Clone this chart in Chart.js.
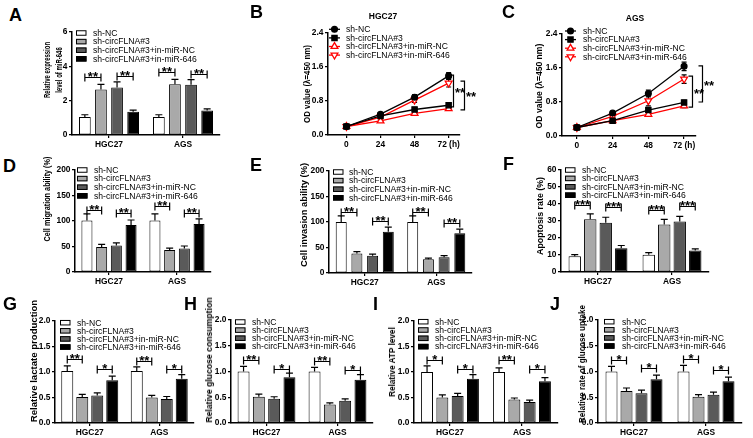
<!DOCTYPE html>
<html><head><meta charset="utf-8">
<script src="https://cdn.jsdelivr.net/npm/chart.js@4.4.0/dist/chart.umd.min.js"></script>
<style>
body{margin:0;background:#fff;}
#fig{position:relative;width:753px;height:438px;overflow:hidden;background:#fff;font-family:'Liberation Sans',Arial,sans-serif;}
canvas{position:absolute;}
.lbl{position:absolute;font-weight:bold;font-size:18px;line-height:1;color:#000;z-index:5;}
.yt{position:absolute;white-space:nowrap;font-weight:bold;font-size:9.5px;line-height:1.05;text-align:center;color:#000;z-index:5;}
.ct{position:absolute;font-weight:bold;font-size:8.5px;white-space:nowrap;transform:translate(-50%,-50%);z-index:5;}
</style></head>
<body><div id="fig"></div>
<script>
// ---------------- DATA ----------------
const categories = ['HGC27', 'AGS'];
const groups = ['sh-NC', 'sh-circFLNA#3', 'sh-circFLNA#3+in-miR-NC', 'sh-circFLNA#3+in-miR-646'];
const hours = [0, 24, 48, 72];

// rows = groups, columns = categories [HGC27, AGS]
const miR646 = [[1.05, 1.05], [2.65, 2.96], [2.77, 2.92], [1.35, 1.42]];
const miR646Err = [[0.13, 0.13], [0.30, 0.28], [0.33, 0.30], [0.10, 0.10]];
const miR646Sig = [[0, 0, 1, 3.35, '**'], [0, 2, 3, 3.43, '**'], [1, 0, 1, 3.68, '**'], [1, 2, 3, 3.58, '**']];
const miR646Ticks = [0, 2, 4, 6];

// OD (CCK-8) curves, rows = groups, columns = hours
const odHGC27 = [[0.20, 0.49, 0.89, 1.39], [0.20, 0.45, 0.60, 0.70], [0.20, 0.33, 0.51, 0.62], [0.20, 0.42, 0.82, 1.22]];
const odHGC27Err = [[0.02, 0.03, 0.06, 0.08], [0.02, 0.03, 0.05, 0.05], [0.02, 0.02, 0.03, 0.03], [0.02, 0.03, 0.05, 0.09]];
const odHGC27Sig = [[1.41, 0.66, '**'], [1.27, 0.59, '**']];
const odAGS = [[0.20, 0.54, 1.00, 1.64], [0.20, 0.36, 0.61, 0.79], [0.20, 0.36, 0.51, 0.71], [0.20, 0.46, 0.83, 1.34]];
const odAGSErr = [[0.02, 0.04, 0.08, 0.10], [0.02, 0.02, 0.05, 0.05], [0.02, 0.02, 0.03, 0.04], [0.02, 0.03, 0.12, 0.10]];
const odAGSSig = [[1.41, 0.68, '**'], [1.65, 0.80, '**']];
const odTicks = [0, 0.8, 1.6, 2.4];

const migration = [[101, 101], [49, 43], [52, 46], [92, 94]];
const migrationErr = [[13, 13], [5, 4], [5, 5], [10, 10]];
const migrationSig = [[0, 0, 1, 122, '**'], [0, 2, 3, 115, '**'], [1, 0, 1, 129, '**'], [1, 2, 3, 115, '**']];
const pctTicks = [0, 50, 100, 150, 200];

const invasion = [[100, 100], [38, 27], [34, 31], [81, 78]];
const invasionErr = [[12, 12], [4, 2], [3, 3], [9, 8]];
const invasionSig = [[0, 0, 1, 120, '**'], [0, 2, 3, 102, '**'], [1, 0, 1, 120, '**'], [1, 2, 3, 99, '**']];

const apoptosis = [[9.2, 10.2], [31, 28], [29, 29.7], [14, 12.6]];
const apoptosisErr = [[1, 1.2], [3.2, 3], [3.2, 3], [1.6, 1]];
const apoptosisSig = [[0, 0, 1, 39.3, '***'], [0, 2, 3, 38, '***'], [1, 0, 1, 36.4, '***'], [1, 2, 3, 38.8, '***']];
const apoTicks = [0, 10, 20, 30, 40, 50, 60];

const lactate = [[1.02, 1.02], [0.51, 0.50], [0.54, 0.47], [0.84, 0.87]];
const lactateErr = [[0.10, 0.08], [0.05, 0.04], [0.05, 0.05], [0.08, 0.08]];
const lactateSig = [[0, 0, 1, 1.25, '**'], [0, 2, 3, 1.05, '*'], [1, 0, 1, 1.22, '**'], [1, 2, 3, 1.05, '*']];

const glucoseCons = [[1.0, 1.0], [0.51, 0.36], [0.47, 0.43], [0.89, 0.84]];
const glucoseConsErr = [[0.10, 0.08], [0.05, 0.03], [0.04, 0.04], [0.08, 0.10]];
const glucoseConsSig = [[0, 0, 1, 1.22, '**'], [0, 2, 3, 1.05, '*'], [1, 0, 1, 1.21, '**'], [1, 2, 3, 1.03, '*']];

const atp = [[1.0, 1.0], [0.50, 0.46], [0.53, 0.41], [0.87, 0.82]];
const atpErr = [[0.12, 0.08], [0.05, 0.03], [0.05, 0.04], [0.08, 0.07]];
const atpSig = [[0, 0, 1, 1.23, '*'], [0, 2, 3, 1.05, '*'], [1, 0, 1, 1.23, '**'], [1, 2, 3, 1.05, '*']];

const uptake = [[1.0, 1.0], [0.62, 0.51], [0.58, 0.55], [0.85, 0.81]];
const uptakeErr = [[0.10, 0.12], [0.06, 0.04], [0.06, 0.05], [0.08, 0.08]];
const uptakeSig = [[0, 0, 1, 1.23, '*'], [0, 2, 3, 1.06, '*'], [1, 0, 1, 1.24, '*'], [1, 2, 3, 1.03, '*']];
const relTicks = [0, 0.5, 1.0, 1.5, 2.0];

// ---------------- STYLE / HELPERS ----------------
const FONT = "'Liberation Sans', Arial, Helvetica, sans-serif";
Chart.defaults.font.family = FONT;
Chart.defaults.color = '#000';
const BAR_COLORS = ['#ffffff', '#a9a9a9', '#5a5a5a', '#000000'];
const LINE_STYLES = [
  {color: '#000000', style: 'circle', r: 2.9, rot: 0, fill: '#000000'},
  {color: '#000000', style: 'rect', r: 3.7, rot: 0, fill: '#000000'},
  {color: '#ff0000', style: 'triangle', r: 3.9, rot: 0, fill: '#ffffff'},
  {color: '#ff0000', style: 'triangle', r: 3.9, rot: 180, fill: '#ffffff'}
];
const fig = document.getElementById('fig');

function drawMarker(ctx, style, x, y, r, rot, fill, stroke) {
  ctx.save();
  ctx.beginPath();
  if (style === 'circle') ctx.arc(x, y, r, 0, Math.PI * 2);
  else if (style === 'rect') { const s = r * Math.SQRT1_2; ctx.rect(x - s, y - s, 2 * s, 2 * s); }
  else {
    const a0 = (rot || 0) * Math.PI / 180;
    for (let k = 0; k < 3; k++) {
      const a = a0 + k * 2 * Math.PI / 3;
      const px = x + Math.sin(a) * r, py = y - Math.cos(a) * r;
      if (k === 0) ctx.moveTo(px, py); else ctx.lineTo(px, py);
    }
    ctx.closePath();
  }
  ctx.fillStyle = fill; ctx.fill();
  ctx.strokeStyle = stroke; ctx.lineWidth = 1.3; ctx.stroke();
  ctx.restore();
}

const errBars = {
  id: 'errBars',
  beforeDatasetsDraw(chart, args, o) { if (o && o.err && o.before) this._draw(chart, o); },
  afterDatasetsDraw(chart, args, o) { if (o && o.err && !o.before) this._draw(chart, o); },
  _draw(chart, o) {
    const ctx = chart.ctx, ys = chart.scales.y;
    ctx.save(); ctx.strokeStyle = '#000'; ctx.lineWidth = 1.2;
    chart.data.datasets.forEach((ds, i) => {
      chart.getDatasetMeta(i).data.forEach((el, j) => {
        const v = ds.data[j]; const val = (typeof v === 'object') ? v.y : v;
        const e = o.err[i][j];
        const x = el.x;
        const yT = ys.getPixelForValue(val + e);
        const yB = o.both ? ys.getPixelForValue(val - e) : el.y;
        ctx.beginPath();
        ctx.moveTo(x, yB); ctx.lineTo(x, yT);
        ctx.moveTo(x - o.cap / 2, yT); ctx.lineTo(x + o.cap / 2, yT);
        if (o.both) { ctx.moveTo(x - o.cap / 2, yB); ctx.lineTo(x + o.cap / 2, yB); }
        ctx.stroke();
      });
    });
    ctx.restore();
  }
};

const sigBars = {
  id: 'sigBars',
  afterDraw(chart, args, o) {
    if (!o || !o.list) return;
    const ctx = chart.ctx, ys = chart.scales.y;
    ctx.save(); ctx.strokeStyle = '#000'; ctx.fillStyle = '#000'; ctx.lineWidth = 1.2;
    ctx.font = 'bold 13px ' + FONT; ctx.textBaseline = 'alphabetic';
    if (o.kind === 'bar') {
      ctx.textAlign = 'center';
      o.list.forEach(([cat, a, b, yv, txt]) => {
        const x1 = chart.getDatasetMeta(a).data[cat].x, x2 = chart.getDatasetMeta(b).data[cat].x;
        const y = Math.round(ys.getPixelForValue(yv)) + 0.5;
        ctx.beginPath();
        ctx.moveTo(x1, y); ctx.lineTo(x2, y);
        ctx.moveTo(x1, y - 4); ctx.lineTo(x1, y + 4);
        ctx.moveTo(x2, y - 4); ctx.lineTo(x2, y + 4);
        ctx.stroke();
        ctx.fillText(txt, (x1 + x2) / 2, y + 3);
      });
    } else {
      ctx.textAlign = 'left';
      const xs = chart.scales.x;
      o.list.forEach(([y1v, y2v, txt], k) => {
        const x = Math.round(xs.getPixelForValue(o.at) + o.dx[k]) + 0.5;
        const y1 = ys.getPixelForValue(y1v), y2 = ys.getPixelForValue(y2v);
        ctx.beginPath();
        ctx.moveTo(x - 4, y1); ctx.lineTo(x, y1); ctx.lineTo(x, y2); ctx.lineTo(x - 4, y2);
        ctx.stroke();
        ctx.fillText(txt, x + 1.5, (y1 + y2) / 2 + 6);
      });
    }
    ctx.restore();
  }
};

const prismLegend = {
  id: 'prismLegend',
  afterDraw(chart, args, o) {
    if (!o || !o.show) return;
    const ctx = chart.ctx, a = chart.chartArea;
    ctx.save();
    ctx.font = o.size + 'px ' + FONT;
    ctx.textBaseline = 'middle'; ctx.textAlign = 'left';
    chart.data.datasets.forEach((ds, i) => {
      const cy = a.top + o.dy + i * o.row;
      const x0 = a.left + o.dx;
      if (o.kind === 'bar') {
        ctx.fillStyle = ds.backgroundColor;
        ctx.fillRect(x0, cy - o.bh / 2, o.bw, o.bh);
        ctx.strokeStyle = '#000'; ctx.lineWidth = 1;
        ctx.strokeRect(x0 + 0.5, cy - o.bh / 2 + 0.5, o.bw - 1, o.bh - 1);
      } else {
        const st = LINE_STYLES[i];
        ctx.strokeStyle = st.color; ctx.lineWidth = 1.3;
        ctx.beginPath(); ctx.moveTo(x0, cy); ctx.lineTo(x0 + o.lw, cy); ctx.stroke();
        drawMarker(ctx, st.style, x0 + o.lw / 2, cy, st.r, st.rot, st.fill, st.color);
      }
      ctx.fillStyle = '#000';
      ctx.fillText(ds.label, x0 + o.tx, cy + 0.5);
    });
    ctx.restore();
  }
};

function place(g, padL, padT, padR, padB) {
  const c = document.createElement('canvas');
  const w = g.R - g.L + padL + padR, h = g.B - g.T + padT + padB;
  c.width = w; c.height = h;
  c.style.left = (g.L - padL) + 'px'; c.style.top = (g.T - padT) + 'px';
  c.style.width = w + 'px'; c.style.height = h + 'px';
  fig.appendChild(c);
  return c;
}

function axisY(ticks, dec, padL) {
  return {
    min: ticks[0], max: ticks[ticks.length - 1],
    afterBuildTicks: s => { s.ticks = ticks.map(v => ({value: v})); },
    afterFit: s => { s.width = padL; },
    ticks: {font: {size: 8.4, weight: 'bold'}, padding: 1.5, callback: v => Number(v).toFixed(dec)},
    grid: {drawOnChartArea: false, drawTicks: true, tickLength: 3, color: '#000', lineWidth: 1.2},
    border: {color: '#000', width: 1.5}
  };
}

function barPanel(g, values, err, sig, ticks, dec, leg) {
  const padL = 45, padT = 12, padR = 8, padB = 20;
  const cv = place(g, padL, padT, padR, padB);
  const datasets = groups.map((name, i) => ({
    label: name, data: values[i], backgroundColor: BAR_COLORS[i], borderColor: '#000',
    borderWidth: 1, borderSkipped: false, categoryPercentage: g.cat, barPercentage: g.bar
  }));
  new Chart(cv, {
    type: 'bar',
    data: {labels: categories, datasets},
    options: {
      responsive: false, animation: false, devicePixelRatio: 1, events: [],
      layout: {padding: {top: padT, right: padR, left: 0, bottom: 0}},
      scales: {
        x: {
          afterFit: s => { s.height = padB; },
          ticks: {font: {size: 8.4, weight: 'bold'}, padding: 1.5, maxRotation: 0, autoSkip: false},
          grid: {offset: false, drawOnChartArea: false, tickLength: 3, color: '#000', lineWidth: 1.2},
          border: {color: '#000', width: 1.5}
        },
        y: axisY(ticks, dec, padL)
      },
      plugins: {
        legend: {display: false}, tooltip: {enabled: false},
        errBars: {err, cap: 7, both: false},
        sigBars: {list: sig, kind: 'bar'},
        prismLegend: Object.assign({show: true, kind: 'bar', size: 8.6, bw: 10.5, bh: 5.5, row: 8.6}, leg)
      }
    },
    plugins: [errBars, sigBars, prismLegend]
  });
}

function linePanel(g, values, err, sig, leg) {
  const padL = 45, padT = 12, padR = 22, padB = 20;
  const cv = place(g, padL, padT, padR, padB);
  const datasets = groups.map((name, i) => {
    const st = LINE_STYLES[i];
    return {
      label: name, data: hours.map((h, k) => ({x: h, y: values[i][k]})),
      borderColor: st.color, backgroundColor: st.fill, borderWidth: 1.3, fill: false, tension: 0,
      pointStyle: st.style, pointRadius: st.r, pointRotation: st.rot,
      pointBackgroundColor: st.fill, pointBorderColor: st.color, pointBorderWidth: 1.3
    };
  });
  new Chart(cv, {
    type: 'line',
    data: {datasets},
    options: {
      responsive: false, animation: false, devicePixelRatio: 1, events: [],
      layout: {padding: {top: padT, right: padR, left: 0, bottom: 0}},
      scales: {
        x: {
          type: 'linear', min: g.xmin, max: g.xmax,
          afterBuildTicks: s => { s.ticks = hours.map(v => ({value: v})); },
          afterFit: s => { s.height = padB; },
          ticks: {font: {size: 8.4, weight: 'bold'}, padding: 1.5, maxRotation: 0, autoSkip: false,
                  callback: v => v === hours[hours.length - 1] ? v + ' (h)' : String(v)},
          grid: {drawOnChartArea: false, tickLength: 3, color: '#000', lineWidth: 1.2},
          border: {color: '#000', width: 1.5}
        },
        y: axisY(odTicks, 1, padL)
      },
      plugins: {
        legend: {display: false}, tooltip: {enabled: false},
        errBars: {err, cap: 5, both: true, before: true},
        sigBars: {list: sig, kind: 'line', at: hours[hours.length - 1], dx: g.bdx},
        prismLegend: Object.assign({show: true, kind: 'line', size: 8.6, lw: 11, row: 8.6}, leg)
      }
    },
    plugins: [errBars, sigBars, prismLegend]
  });
}

function letter(t, x, capTop) {
  const d = document.createElement('div');
  d.className = 'lbl'; d.textContent = t;
  d.style.left = x + 'px'; d.style.top = (capTop - 2.4) + 'px';
  fig.appendChild(d);
}
function yTitle(cx, cy, len, html, lh) {
  const d = document.createElement('div');
  d.className = 'yt'; d.innerHTML = html;
  if (lh) d.style.lineHeight = lh + 'px';
  fig.appendChild(d);
  const w = d.offsetWidth;
  d.style.left = cx + 'px'; d.style.top = cy + 'px';
  d.style.transform = 'translate(-50%,-50%) rotate(-90deg) scaleX(' + (len / w) + ')';
}
function cTitle(cx, cy, t) {
  const d = document.createElement('div');
  d.className = 'ct'; d.textContent = t;
  d.style.left = cx + 'px'; d.style.top = cy + 'px';
  fig.appendChild(d);
}

// ---------------- PANELS ----------------
barPanel({L: 72, R: 220, T: 32, B: 135, cat: 0.87, bar: 0.73}, miR646, miR646Err, miR646Sig, miR646Ticks, 0, {dx: 4, dy: 1, tx: 17});
linePanel({L: 328, R: 460, T: 33, B: 135, xmin: -13, xmax: 80, bdx: [4.5, 15.5]}, odHGC27, odHGC27Err, odHGC27Sig, {dx: 1, dy: -3.7, tx: 17});
linePanel({L: 562, R: 696, T: 34, B: 136, xmin: -10, xmax: 80, bdx: [8, 18]}, odAGS, odAGSErr, odAGSSig, {dx: 3, dy: -3, tx: 18});
barPanel({L: 75, R: 211, T: 170, B: 272, cat: 0.865, bar: 0.75}, migration, migrationErr, migrationSig, pctTicks, 0, {dx: 2, dy: 0, tx: 17});
barPanel({L: 329, R: 472, T: 171, B: 273, cat: 0.878, bar: 0.70}, invasion, invasionErr, invasionSig, pctTicks, 0, {dx: 4, dy: 1, tx: 16});
barPanel({L: 561, R: 709, T: 170, B: 272, cat: 0.838, bar: 0.80}, apoptosis, apoptosisErr, apoptosisSig, apoTicks, 0, {dx: 4, dy: 0, tx: 17, row: 8.4});
barPanel({L: 55, R: 194, T: 321, B: 423, cat: 0.863, bar: 0.80}, lactate, lactateErr, lactateSig, relTicks, 1, {dx: 5, dy: 1.7, tx: 17, row: 8.1});
barPanel({L: 231, R: 373, T: 320, B: 423, cat: 0.862, bar: 0.78}, glucoseCons, glucoseConsErr, glucoseConsSig, relTicks, 1, {dx: 4, dy: 2, tx: 17, row: 8.1});
barPanel({L: 414, R: 558, T: 321, B: 423, cat: 0.85, bar: 0.78}, atp, atpErr, atpSig, relTicks, 1, {dx: 4, dy: 0.7, tx: 17, row: 8.3});
barPanel({L: 598, R: 742, T: 320, B: 423, cat: 0.833, bar: 0.80}, uptake, uptakeErr, uptakeSig, relTicks, 1, {dx: 6, dy: 1.7, tx: 18, row: 8.1});

// ---------------- TEXT ----------------
letter('A', 9, 8); letter('B', 250, 5); letter('C', 502, 5);
letter('D', 3, 159); letter('E', 250, 158); letter('F', 503, 157);
letter('G', 3, 297); letter('H', 184, 297); letter('I', 373, 297); letter('J', 550, 297);

yTitle(51.5, 70, 56, 'Relative expression<br>level of miR-646', 11.5);
yTitle(306.5, 84, 78, 'OD value (λ=450 nm)');
yTitle(538.5, 86, 85, 'OD value (λ=450 nm)');
yTitle(46.5, 199, 85, 'Cell migration ability (%)');
yTitle(303.5, 215, 104, 'Cell invasion ability (%)');
yTitle(539.5, 216, 78, 'Apoptosis rate (%)');
yTitle(33.5, 361, 122, 'Relative lactate production');
yTitle(208.5, 360, 125, 'Relative glucose consumption');
yTitle(391.5, 362, 70, 'Relative ATP level');
yTitle(581.5, 364, 118, 'Relative rate of glucose uptake');

cTitle(383, 16, 'HGC27');
cTitle(635, 17.5, 'AGS');
</script>
</body></html>
